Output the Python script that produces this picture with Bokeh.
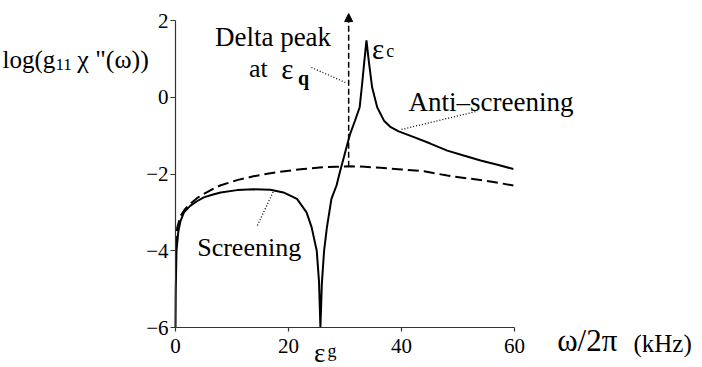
from bokeh.plotting import figure
from bokeh.models import Range1d, Label, Arrow, NormalHead, FixedTicker
from bokeh.embed import file_html
from bokeh.resources import INLINE

# ---- data ----
solid_x = [0, 0.05, 0.18, 0.5, 0.9, 1.5, 2.6, 3.8, 5, 6.5, 8, 10.9, 13.8, 16.8, 19.1,
           21.5, 23.2, 24.1, 25, 25.4, 25.65, 25.9, 26.3, 26.8, 27.6, 28.5, 29.1, 30.0,
           30.9, 31.8, 32.6, 33.0, 33.4, 33.8, 34.2, 34.8, 35.7, 36.9, 38.1, 39.5, 42.2,
           45, 48.1, 51, 54, 57, 59.8]
solid_y = [-6, -5.0, -4.0, -3.5, -3.22, -3.0, -2.83, -2.71, -2.61, -2.54, -2.48, -2.42,
           -2.40, -2.41, -2.48, -2.65, -3.0, -3.39, -4.0, -4.8, -6.0, -4.87, -4.0, -3.39,
           -2.65, -2.3, -1.95, -1.45, -0.96, -0.6, -0.26, 0.3, 0.9, 1.48, 0.96, 0.26,
           -0.26, -0.61, -0.78, -0.89, -1.04, -1.2, -1.39, -1.52, -1.65, -1.76, -1.87]

dash_x = [0.1, 0.3, 0.9, 1.6, 2.6, 3.8, 5, 6.5, 7.9, 10.9, 13.8, 16.8, 19.7, 22.6, 25.5,
          28.5, 31, 33.5, 36.3, 40, 44, 48.1, 52, 56, 59.8]
dash_y = [-3.9, -3.4, -3.09, -2.93, -2.78, -2.63, -2.52, -2.4, -2.3, -2.16, -2.06, -1.98,
          -1.92, -1.87, -1.83, -1.81, -1.80, -1.81, -1.84, -1.88, -1.93, -2.04, -2.12,
          -2.2, -2.30]

x_ticks = [0, 20, 40, 60]
y_ticks = [-6, -4, -2, 0, 2]
y_tick_labels = ["\u22126", "\u22124", "\u22122", "0", "2"]

delta_peak_x = 30.65
delta_peak_y = [-1.81, 2.18]

# leader lines (annotation pointers)
lead_delta_x = [24.07, 30.09]
lead_delta_y = [0.775, 0.384]
lead_anti_x = [40.0, 53.45]
lead_anti_y = [-0.84, -0.363]
lead_scr_x = [14.5, 17.4]
lead_scr_y = [-3.342, -2.43]

FONT = "Liberation Serif"

# the frame spans the whole canvas; the axes sit at fixed data locations
p = figure(frame_width=700, frame_height=365,
           min_border_left=0, min_border_right=0, min_border_top=0, min_border_bottom=0,
           x_range=Range1d(-30.97, 92.92), y_range=Range1d(-6.9902, 2.5212),
           output_backend="svg", toolbar_location=None)
p.outline_line_color = None
p.grid.visible = False
p.background_fill_color = "white"
p.border_fill_color = "white"

for ax in (p.xaxis[0], p.yaxis[0]):
    ax.axis_line_color = "#333333"
    ax.axis_line_width = 1.2
    ax.major_tick_line_color = "#333333"
    ax.major_tick_line_width = 1.2
    ax.minor_tick_line_color = None
    ax.major_label_text_font = FONT
    ax.major_label_text_font_size = "21px"
    ax.major_label_text_color = "black"

p.xaxis.fixed_location = -6
p.xaxis.bounds = (0, 60)
p.xaxis.ticker = FixedTicker(ticks=x_ticks)
p.xaxis.major_tick_in = 0
p.xaxis.major_tick_out = 4
p.xaxis.major_label_standoff = 7

p.yaxis.fixed_location = 0
p.yaxis.bounds = (-6, 2)
p.yaxis.ticker = FixedTicker(ticks=y_ticks)
p.yaxis.major_label_overrides = {t: s for t, s in zip(y_ticks, y_tick_labels)}
p.yaxis.major_tick_in = 0
p.yaxis.major_tick_out = 5
p.yaxis.major_label_standoff = 2

# curves
p.line(dash_x, dash_y, line_color="black", line_width=2, line_dash="11 5")
p.line(solid_x, solid_y, line_color="black", line_width=2)

# delta peak arrow
p.add_layout(Arrow(x_start=delta_peak_x, y_start=delta_peak_y[0],
                   x_end=delta_peak_x, y_end=delta_peak_y[1],
                   line_color="black", line_width=1.5, line_dash="6 3",
                   end=NormalHead(size=8, fill_color="black", line_color="black")))

# leaders
for lx, ly in ((lead_delta_x, lead_delta_y), (lead_anti_x, lead_anti_y), (lead_scr_x, lead_scr_y)):
    p.line(lx, ly, line_color="black", line_width=1.3, line_dash="1 2")


def lab(x, y, text, size, align="left", style="normal"):
    p.add_layout(Label(x=x, y=y, text=text,
                       text_font=FONT, text_font_size=size,
                       text_font_style=style, text_color="black",
                       text_align=align, text_baseline="alphabetic"))


lab(17.26, 1.565, "Delta peak", "27px", align="center")
lab(13.0, 0.741, "at", "26px")
lab(18.7, 0.741, "\u03b5", "29px")
lab(21.7, 0.49, "q", "20px", style="bold")
lab(34.8, 1.27, "\u03b5", "29px")
lab(37.3, 1.218, "c", "18px")
lab(41.24, -0.129, "Anti\u2013screening", "27px")
lab(3.84, -3.907, "Screening", "26px")
lab(24.5, -6.66, "\u03b5", "27px")
lab(26.9, -6.62, "g", "18px")
lab(67.56, -6.339, "\u03c9/2\u03c0", "31px")
lab(81.06, -6.425, "(kHz)", "25px")
lab(-30.62, 0.984, "log(g", "25px")
lab(-21.24, 0.853, "11", "17px")
lab(-17.4, 0.984, "\u03c7 \"(\u03c9))", "26px")

open("out.html", "w").write(file_html(p, INLINE))
